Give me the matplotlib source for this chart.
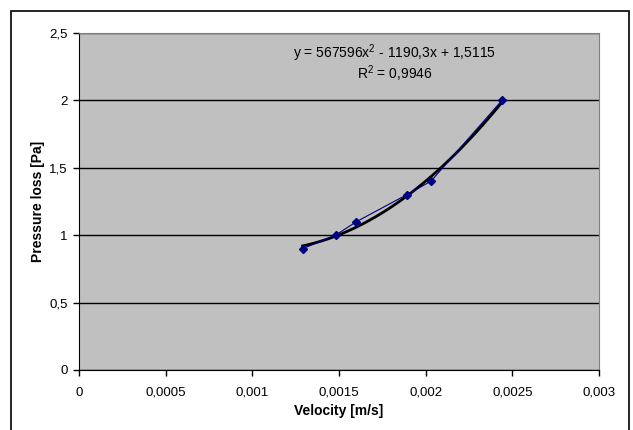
import numpy as np
import matplotlib
matplotlib.use('Agg')
import matplotlib.pyplot as plt
from matplotlib.ticker import FuncFormatter
from matplotlib.patches import Rectangle

plt.rcParams['font.family'] = ['Liberation Sans', 'DejaVu Sans']
plt.rcParams['mathtext.fontset'] = 'custom'
plt.rcParams['mathtext.rm'] = 'Liberation Sans'
plt.rcParams['mathtext.default'] = 'regular'

# measured data
velocity = [0.00129, 0.00148, 0.00160, 0.00189, 0.00203, 0.00244]
pressure = [0.90, 1.00, 1.10, 1.30, 1.40, 2.00]

# trendline coefficients shown on the chart
coef = [567596, -1190.3, 1.5115]
r2_label = "0,9946"

x_ticks = [0, 0.0005, 0.001, 0.0015, 0.002, 0.0025, 0.003]
y_ticks = [0, 0.5, 1, 1.5, 2, 2.5]


def comma(v, pos=None):
    s = f"{v:.4f}".rstrip('0').rstrip('.')
    return s.replace('.', ',')


fig = plt.figure(figsize=(6.33, 4.30), dpi=100)
ax = fig.add_axes([79 / 633, 60 / 430, 520 / 633, 337 / 430])
ax.set_facecolor('#C0C0C0')

ax.set_xlim(0, 0.003)
ax.set_ylim(0, 2.5)
ax.set_xticks(x_ticks)
ax.set_yticks(y_ticks)
ax.xaxis.set_major_formatter(FuncFormatter(comma))
ax.yaxis.set_major_formatter(FuncFormatter(comma))
ax.tick_params(direction='out', length=4, width=1, labelsize=9.5, color='black')
ax.tick_params(axis='x', pad=8)
ax.tick_params(axis='y', pad=4)
ax.grid(axis='y', color='black', linewidth=1)
ax.set_axisbelow(True)

for side in ['top', 'right']:
    ax.spines[side].set_color('#808080')
for side in ['left', 'bottom']:
    ax.spines[side].set_color('black')

# trendline
xs = np.linspace(min(velocity), max(velocity), 100)
ys = np.polyval(coef, xs)
ax.plot(xs, ys, color='black', linewidth=2, zorder=3)

# data series
ax.plot(velocity, pressure, color='#000080', linewidth=0.8, marker='D',
        markersize=4.5, markerfacecolor='#000080', markeredgecolor='#000080', zorder=4)

ax.text(0.00182, 2.35, 'y = 567596x$^{2}$ - 1190,3x + 1,5115', ha='center', va='center', fontsize=10)
ax.text(0.00182, 2.20, 'R$^{2}$ = ' + r2_label, ha='center', va='center', fontsize=10)

ax.set_xlabel('Velocity [m/s]', fontsize=10, fontweight='bold', labelpad=4)
ax.set_ylabel('Pressure loss [Pa]', fontsize=10, fontweight='bold', labelpad=3)

# outer chart border
fig.patches.append(Rectangle((11 / 633, -0.05), 618 / 633, (419 / 430) + 0.05,
                             transform=fig.transFigure, fill=False,
                             edgecolor='black', linewidth=1.2))

fig.savefig('out.png', dpi=100)
